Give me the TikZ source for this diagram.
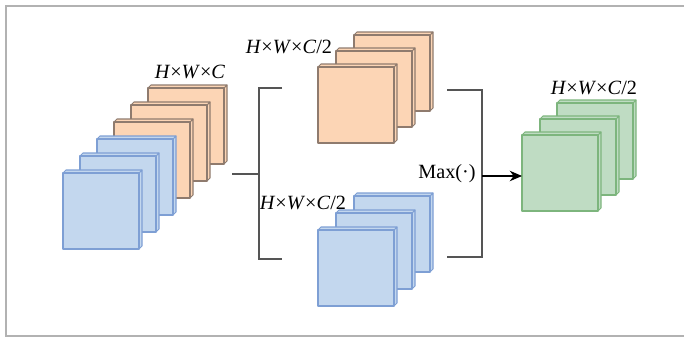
\documentclass[tikz,border=0pt]{standalone}
\usepackage{fontspec}
\setmainfont{Liberation Serif}
\usepackage{xcolor}
\usetikzlibrary{arrows.meta, positioning, calc}

\definecolor{slabblue}{HTML}{C3D7EE}
\definecolor{edgeblue}{HTML}{7E9FD4}
\definecolor{slaborange}{HTML}{FCD5B5}
\definecolor{edgeorange}{HTML}{8F7B6E}
\definecolor{slabgreen}{HTML}{BFDCC3}
\definecolor{edgegreen}{HTML}{7DB57D}
\definecolor{wire}{HTML}{555555}

\begin{document}
\begin{tikzpicture}[x=0.02cm, y=-0.02cm,
  face/.style={line width=0.6pt, line join=round},
  blueslab/.style={face, fill=slabblue, draw=edgeblue},
  orangeslab/.style={face, fill=slaborange, draw=edgeorange},
  greenslab/.style={face, fill=slabgreen, draw=edgegreen},
  bracket/.style={draw=wire, line width=0.75pt},
  lbl/.style={font=\fontsize{11.5}{13}\selectfont, inner sep=0pt},
  slab/.pic={
    % side, top, then front face of one feature map
    \draw[pic actions] (76,0) -- (79,-3) -- (79,73) -- (76,76) -- cycle;
    \draw[pic actions] (0,0) -- (3,-3) -- (79,-3) -- (76,0) -- cycle;
    \draw[pic actions] (0,0) rectangle (76,76);
    \coordinate (-west) at (0,38);
  }]
\useasboundingbox (0,0) rectangle (684,338);
% frame, open on the right
\draw[gray!60, line width=0.9pt] (684,6) -- (6,6) -- (6,336) -- (684,336);

% input stack: H x W x C
\pic[orangeslab] (o3) at (148,88) {slab};
\pic[orangeslab] (o2) at (131,105) {slab};
\pic[orangeslab] (o1) at (114,122) {slab};
\pic[blueslab] (b3) at (97,139) {slab};
\pic[blueslab] (b2) at (80,156) {slab};
\pic[blueslab] (b1) at (63,173) {slab};
\node[lbl] (lin) at (190,72) {\textit{H}×\textit{W}×\textit{C}};

% upper half
\pic[orangeslab] (ut3) at (354,35) {slab};
\pic[orangeslab] (ut2) at (336,51) {slab};
\pic[orangeslab] (ut1) at (318,67) {slab};
\node[lbl] (ltop) at (289,47) {\textit{H}×\textit{W}×\textit{C}/2};

% lower half
\pic[blueslab] (lt3) at (354,196) {slab};
\pic[blueslab] (lt2) at (336,213) {slab};
\pic[blueslab] (lt1) at (318,230) {slab};
\node[lbl] (lbot) at (303,203) {\textit{H}×\textit{W}×\textit{C}/2};

% output stack
\pic[greenslab] (g3) at (557,103) {slab};
\pic[greenslab] (g2) at (540,119) {slab};
\pic[greenslab] (g1) at (522,135) {slab};
\node[lbl] (lout) at (594,88) {\textit{H}×\textit{W}×\textit{C}/2};

% split bracket
\coordinate (stackout) at (232,174);
\coordinate (split) at (259,174);
\coordinate (splittop) at (259,88);
\coordinate (splitbot) at (259,259);
\coordinate (toparm) at (282,88);
\coordinate (botarm) at (282,259);
\draw[bracket] (stackout) -- (split);
\draw[bracket] (toparm) -- (splittop) -- (splitbot) -- (botarm);

% merge bracket
\coordinate (mergetop) at (482,90);
\coordinate (mergebot) at (482,257);
\coordinate (inarm) at (447,90);
\coordinate (outarm) at (447,257);
\coordinate (join) at (482,176);
\draw[bracket] (inarm) -- (mergetop) -- (mergebot) -- (outarm);
\node[lbl, anchor=east] (maxop) at (476,174) {Max(·)};
\draw[line width=0.75pt, -{Stealth[length=7pt, width=6pt]}] (join) -- (join -| g1-west);
\end{tikzpicture}
\end{document}
